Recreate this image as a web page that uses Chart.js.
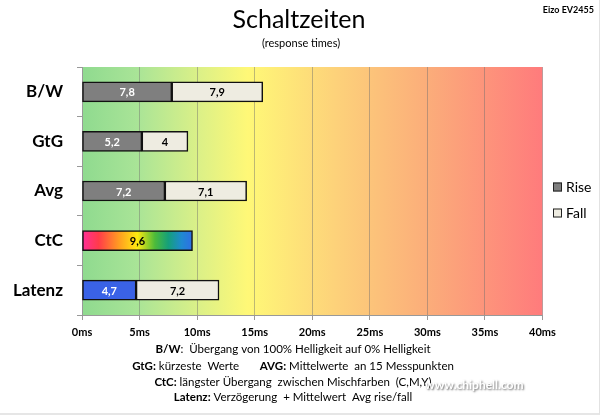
<!DOCTYPE html>
<html>
<head>
<meta charset="utf-8">
<script src="https://cdn.jsdelivr.net/npm/chart.js@4"></script>
<style>
html,body{margin:0;padding:0;background:#fff;}
#wrap{position:relative;width:600px;height:415px;box-sizing:border-box;border-right:1px solid #e2e2e2;border-bottom:2px solid #e6e6e6;}
canvas{display:block;}
</style>
</head>
<body>
<div id="wrap"><canvas id="c" width="600" height="415"></canvas></div>
<script>
const categories = ['B/W', 'GtG', 'Avg', 'CtC', 'Latenz'];
const riseValues = [7.8, 5.2, 7.2, 9.6, 4.7];
const fallValues = [7.9, 4, 7.1, null, 7.2];
const seriesNames = ['Rise', 'Fall'];
const xTicks = [0, 5, 10, 15, 20, 25, 30, 35, 40];
const titleText = 'Schaltzeiten';
const subtitleText = '(response times)';
const cornerText = 'Eizo EV2455';
const footnotes = [
  [['B/W', true], [':  Übergang von 100% Helligkeit auf 0% Helligkeit', false]],
  [['GtG:', true], [' kürzeste  Werte       ', false], ['AVG:', true], [' Mittelwerte  an 15 Messpunkten', false]],
  [['CtC:', true], [' längster Übergang  zwischen Mischfarben  (C,M,Y)', false]],
  [['Latenz:', true], [' Verzögerung  + Mittelwert  Avg rise/fall', false]]
];

const FONT = 'Lato, "Open Sans", sans-serif';
const GRAY = '#7f7f7f';
const BLUE = '#3a62e6';
const FALL = '#eeece1';

function riseColor(ctx) {
  const i = ctx.dataIndex;
  if (i === 3) {
    const chart = ctx.chart;
    const xs = chart.scales.x;
    if (!xs || !chart.chartArea) return '#ff3399';
    const x0 = xs.getPixelForValue(0), x1 = xs.getPixelForValue(riseValues[3]);
    const g = chart.ctx.createLinearGradient(x0, 0, x1, 0);
    g.addColorStop(0, '#ff2e9a');
    g.addColorStop(0.15, '#ff3b4a');
    g.addColorStop(0.33, '#ff9a22');
    g.addColorStop(0.5, '#ffea10');
    g.addColorStop(0.66, '#4cbb3a');
    g.addColorStop(0.78, '#15a07a');
    g.addColorStop(0.9, '#1f8ad0');
    g.addColorStop(1, '#2f6ee6');
    return g;
  }
  if (i === 4) return BLUE;
  return GRAY;
}

const bgPlugin = {
  id: 'bg',
  beforeDraw(chart) {
    const {ctx, chartArea: a} = chart;
    const g = ctx.createLinearGradient(a.left, 0, a.right, 0);
    g.addColorStop(0, '#8fda8f');
    g.addColorStop(0.12, '#a9e497');
    g.addColorStop(0.25, '#daf088');
    g.addColorStop(0.36, '#fff877');
    g.addColorStop(0.55, '#fdd27a');
    g.addColorStop(0.75, '#fbad7a');
    g.addColorStop(1, '#ff7b7c');
    ctx.save();
    ctx.fillStyle = g;
    ctx.fillRect(a.left, a.top, a.right - a.left, a.bottom - a.top);
    ctx.restore();
  }
};

const labelPlugin = {
  id: 'labels',
  afterDatasetsDraw(chart) {
    const ctx = chart.ctx;
    ctx.save();
    ctx.font = 'bold 11px ' + FONT;
    ctx.textAlign = 'center';
    ctx.textBaseline = 'middle';
    chart.data.datasets.forEach((ds, di) => {
      const meta = chart.getDatasetMeta(di);
      meta.data.forEach((bar, i) => {
        const v = ds.data[i];
        if (v === null || v === undefined) return;
        const cx = (bar.x + bar.base) / 2;
        ctx.fillStyle = (di === 0 && i !== 3) ? '#ffffff' : '#000000';
        ctx.fillText(String(v).replace('.', ','), cx, bar.y + 1);
      });
    });
    ctx.restore();
  }
};

function drawRich(ctx, parts, cx, y, size) {
  let total = 0;
  parts.forEach(p => { ctx.font = (p[1] ? 'bold ' : '') + size + 'px ' + FONT; total += ctx.measureText(p[0]).width; });
  let x = cx - total / 2;
  parts.forEach(p => {
    ctx.font = (p[1] ? 'bold ' : '') + size + 'px ' + FONT;
    ctx.fillText(p[0], x, y);
    x += ctx.measureText(p[0]).width;
  });
}

const textPlugin = {
  id: 'texts',
  afterDraw(chart) {
    const ctx = chart.ctx;
    ctx.save();
    ctx.fillStyle = '#000';
    ctx.textBaseline = 'middle';
    ctx.textAlign = 'center';
    ctx.font = '25px ' + FONT;
    ctx.fillText(titleText, 299, 20);
    ctx.font = '11px ' + FONT;
    ctx.fillText(subtitleText, 301, 43);
    ctx.textAlign = 'right';
    ctx.font = 'bold 9px ' + FONT;
    ctx.fillText(cornerText, 594, 10);
    // legend
    const colors = [GRAY, FALL];
    seriesNames.forEach((n, k) => {
      const y = 187 + k * 26;
      ctx.fillStyle = colors[k];
      ctx.fillRect(553, y - 4.5, 9, 9);
      ctx.strokeStyle = '#222';
      ctx.lineWidth = 1;
      ctx.strokeRect(553.5, y - 4, 8, 8);
      ctx.fillStyle = '#000';
      ctx.textAlign = 'left';
      ctx.font = '14px ' + FONT;
      ctx.fillText(n, 566, y);
    });
    // footnotes
    ctx.textAlign = 'left';
    ctx.fillStyle = '#000';
    const ys = [349, 366, 382, 397];
    footnotes.forEach((parts, k) => drawRich(ctx, parts, 293, ys[k], 11.5));
    // watermark
    ctx.font = 'bold 12px ' + FONT;
    ctx.textAlign = 'left';
    ctx.shadowColor = 'rgba(0,0,0,0.6)';
    ctx.shadowBlur = 2;
    ctx.shadowOffsetX = 1; ctx.shadowOffsetY = 1;
    ctx.fillStyle = '#ffffff';
    ctx.fillText('www.chiphell.com', 425, 385);
    ctx.restore();
  }
};

new Chart(document.getElementById('c'), {
  type: 'bar',
  data: {
    labels: categories,
    datasets: [
      { label: seriesNames[0], data: riseValues, backgroundColor: riseColor, borderColor: '#111', borderWidth: 1.5, borderSkipped: false, barThickness: 20 },
      { label: seriesNames[1], data: fallValues, backgroundColor: FALL, borderColor: '#111', borderWidth: 1.5, borderSkipped: false, barThickness: 20 }
    ]
  },
  options: {
    indexAxis: 'y',
    responsive: false,
    animation: false,
    devicePixelRatio: 1,
    layout: { padding: { left: 0, right: 57.5, top: 67, bottom: 0 } },
    plugins: { legend: { display: false }, title: { display: false }, tooltip: { enabled: false } },
    scales: {
      x: {
        stacked: true,
        min: 0, max: 40,
        afterBuildTicks(s) { s.ticks = xTicks.map(v => ({ value: v })); },
        afterFit(s) { s.height = 100; },
        grid: { color: 'rgba(110,110,110,0.45)', lineWidth: 1, drawTicks: true, tickLength: 5, tickColor: '#999' },
        border: { display: true, color: '#999' },
        ticks: { color: '#000', font: { family: FONT, size: 11, weight: 'bold' }, padding: 6, maxRotation: 0, autoSkip: false, callback: v => v + 'ms' }
      },
      y: {
        stacked: true,
        afterFit(s) { s.width = 82; },
        grid: { offset: true, drawOnChartArea: false, drawTicks: true, tickLength: 5, tickColor: '#999' },
        border: { display: true, color: '#999' },
        ticks: { color: '#000', font: { family: FONT, size: 17, weight: 'bold' }, padding: 14 }
      }
    }
  },
  plugins: [bgPlugin, labelPlugin, textPlugin]
});
</script>
</body>
</html>
